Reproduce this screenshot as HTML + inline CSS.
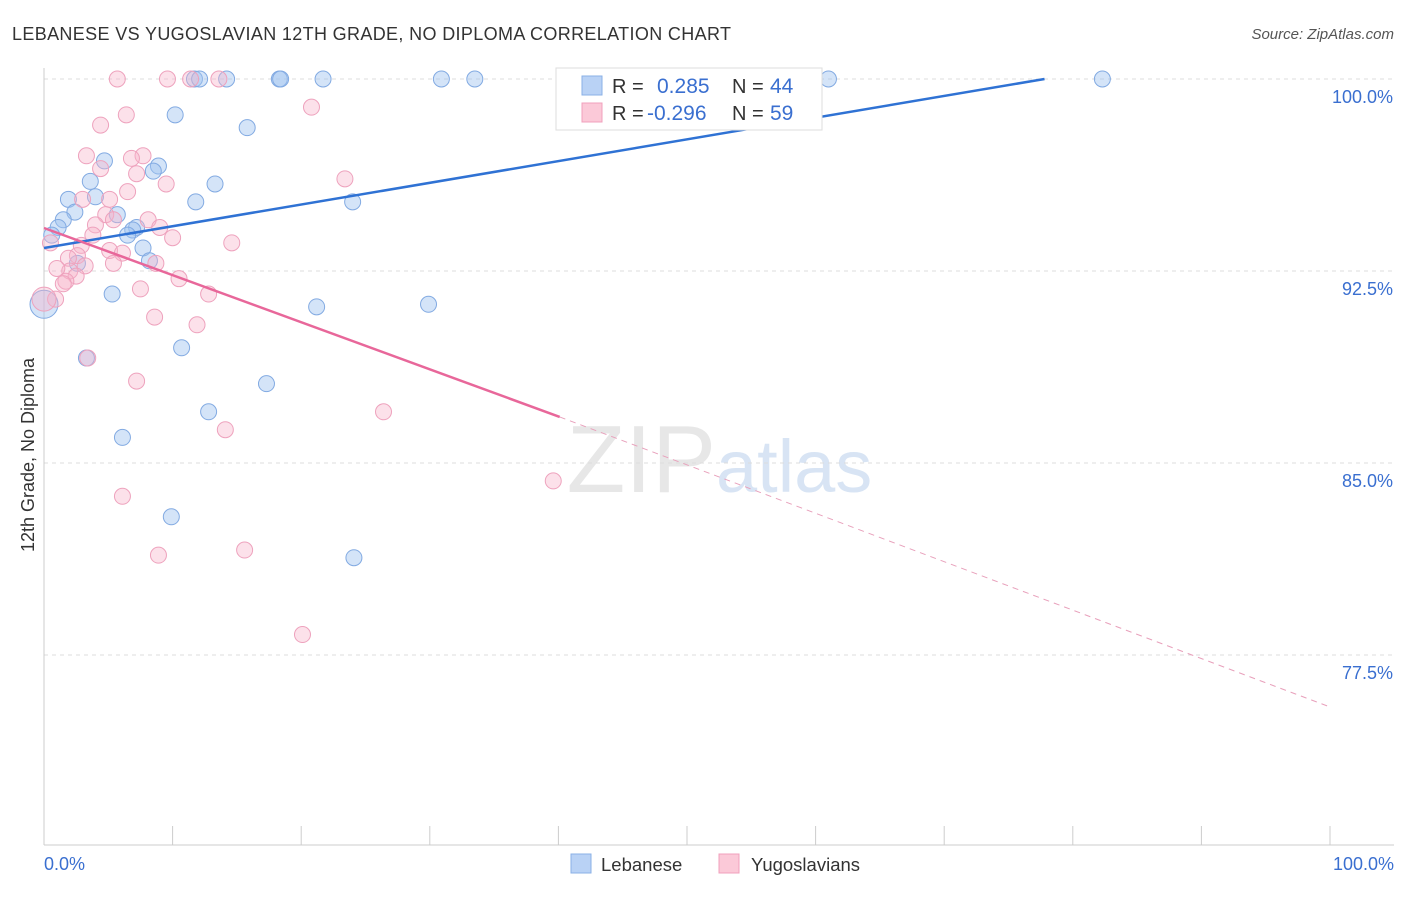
<!DOCTYPE html>
<html><head><meta charset="utf-8"><style>
body{margin:0;background:#fff;font-family:"Liberation Sans",sans-serif;}
svg text{font-family:"Liberation Sans",sans-serif;}
</style></head><body>
<svg id="c" width="1406" height="892" xmlns="http://www.w3.org/2000/svg">
<text x="12" y="40" font-size="18" fill="#333" textLength="719">LEBANESE VS YUGOSLAVIAN 12TH GRADE, NO DIPLOMA CORRELATION CHART</text>
<text x="1394" y="39" font-size="15" fill="#555" font-style="italic" text-anchor="end">Source: ZipAtlas.com</text>
<text x="34" y="455" font-size="18" fill="#333" text-anchor="middle" transform="rotate(-90 34 455)">12th Grade, No Diploma</text>
<text x="716" y="492" font-size="96" fill="#ddd" text-anchor="end" font-family="Liberation Serif" opacity="0.7">ZIP</text>
<text x="716" y="492" font-size="74" fill="#c8daf0" opacity="0.7">atlas</text>
<g id="grid"></g><g id="pts"></g><g id="lines"></g>
<g>
<rect x="556" y="68" width="266" height="62" fill="#fff" stroke="#ddd"/>
<rect x="582" y="76" width="20" height="19" fill="#b9d2f5" stroke="#8ab0e6"/>
<rect x="582" y="103" width="20" height="19" fill="#fbc9d8" stroke="#f0a0bc"/>
<text x="612" y="93" font-size="20" fill="#333">R = </text><text x="657" y="93" font-size="21" fill="#3a6fd0">0.285</text>
<text x="732" y="93" font-size="20" fill="#333">N = </text><text x="770" y="93" font-size="21" fill="#3a6fd0">44</text>
<text x="612" y="120" font-size="20" fill="#333">R = </text><text x="647" y="120" font-size="21" fill="#3a6fd0">-0.296</text>
<text x="732" y="120" font-size="20" fill="#333">N = </text><text x="770" y="120" font-size="21" fill="#3a6fd0">59</text>
</g>
<g>
<rect x="571" y="854" width="20" height="19" fill="#b9d2f5" stroke="#8ab0e6"/>
<text x="601" y="871" font-size="18.5" fill="#333">Lebanese</text>
<rect x="719" y="854" width="20" height="19" fill="#fbc9d8" stroke="#f0a0bc"/>
<text x="751" y="871" font-size="18.5" fill="#333">Yugoslavians</text>
</g>
</svg>
<script>
const yTicks=[100,92.5,85,77.5];
const yTickLabels=["100.0%","92.5%","85.0%","77.5%"];
const xTickLabels=["0.0%","100.0%"];
const blueX=[11.7,12.1,14.2,18.3,18.4,21.7,30.9,33.5,61.0,82.3,10.2,15.8,4.7,8.9,8.5,3.6,13.3,1.9,4.0,11.8,24.0,2.4,1.5,5.7,1.1,7.2,6.9,0.6,6.5,7.7,8.2,2.6,5.3,21.2,29.9,0,10.7,3.3,17.3,12.8,6.1,9.9,24.1];
const blueY=[100,100,100,100,100,100,100,100,100,100,98.6,98.1,96.8,96.6,96.4,96.0,95.9,95.3,95.4,95.2,95.2,94.8,94.5,94.7,94.2,94.2,94.1,93.9,93.9,93.4,92.9,92.8,91.6,91.1,91.2,91.2,89.5,89.1,88.1,87.0,86.0,82.9,81.3];
const pinkX=[5.7,9.6,11.4,13.6,20.8,4.4,6.4,3.3,7.7,6.8,4.4,7.2,6.5,9.5,23.4,3.0,5.1,4.8,8.1,4.0,5.4,9.0,3.8,10.0,14.6,2.9,0.5,5.1,6.1,2.6,1.9,8.7,5.4,3.2,2.0,1.0,2.5,10.5,1.7,1.5,7.5,12.8,0.9,8.6,11.9,3.4,7.2,26.4,14.1,39.6,6.1,15.6,8.9,20.1,0];
const pinkY=[100,100,100,100,98.9,98.2,98.6,97.0,97.0,96.9,96.5,96.3,95.6,95.9,96.1,95.3,95.3,94.7,94.5,94.3,94.5,94.2,93.9,93.8,93.6,93.5,93.6,93.3,93.2,93.1,93.0,92.8,92.8,92.7,92.5,92.6,92.3,92.2,92.1,92.0,91.8,91.6,91.4,90.7,90.4,89.1,88.2,87.0,86.3,84.3,83.7,81.6,81.4,78.3,91.4];
const blueLine=[0,93.4,77.8,100];
const pinkLine=[0,94.18,40.1,86.8,100,75.47];
const X=v=>44+v*12.86, Y=v=>79+(100-v)*25.6;
const NS="http://www.w3.org/2000/svg";
function mk(t,a,p){const e=document.createElementNS(NS,t);for(const k in a)e.setAttribute(k,a[k]);p.appendChild(e);return e;}
const g=document.getElementById('grid');
yTicks.forEach((t,i)=>{
 const l=mk('line',{x1:44,x2:1394,y1:Y(t),y2:Y(t),stroke:'#ddd','stroke-dasharray':'4,4'},g);
 
 
 const tx=mk('text',{x:1393,y:Y(t)+24,'font-size':18,fill:'#3a6fd0','text-anchor':'end'},g);tx.textContent=yTickLabels[i];
 
 
});
const ax=mk('line',{x1:44,x2:1394,y1:845,y2:845,stroke:'#ccc'},g);


const ay=mk('line',{x1:44,x2:44,y1:68,y2:845,stroke:'#ccc'},g);


for(let i=0;i<=10;i++){const t=mk('line',{x1:X(i*10),x2:X(i*10),y1:826,y2:845,stroke:'#ccc'},g);
 
 }
[[0,'start',44],[1,'end',1394]].forEach(([i,a,x])=>{const t=mk('text',{x:x,y:870,'font-size':18,fill:'#3a6fd0','text-anchor':a},g);t.textContent=xTickLabels[i];
 
 });
const p=document.getElementById('pts');
function dot(x,y,f,s,n,r){const c=mk('circle',{cx:X(x),cy:Y(y),r:r,fill:f,stroke:s,'stroke-width':1},p);
 
 }
blueX.forEach((x,i)=>dot(x,blueY[i],'rgba(160,195,240,0.45)','#82aae2','lebanese-point',x===0?14:8));
pinkX.forEach((x,i)=>dot(x,pinkY[i],'rgba(247,180,202,0.4)','#eea2bd','yugoslavian-point',x===0?12:8));
const L=document.getElementById('lines');
const bl=mk('line',{x1:X(blueLine[0]),y1:Y(blueLine[1]),x2:X(blueLine[2]),y2:Y(blueLine[3]),stroke:'#2f72d4','stroke-width':2.5},L);


const pl=mk('line',{x1:X(pinkLine[0]),y1:Y(pinkLine[1]),x2:X(pinkLine[2]),y2:Y(pinkLine[3]),stroke:'#e8679a','stroke-width':2.5},L);


const pd=mk('line',{x1:X(pinkLine[2]),y1:Y(pinkLine[3]),x2:X(pinkLine[4]),y2:Y(pinkLine[5]),stroke:'#e8a0bb','stroke-width':1,'stroke-dasharray':'6,5'},L);


</script>
</body></html>
